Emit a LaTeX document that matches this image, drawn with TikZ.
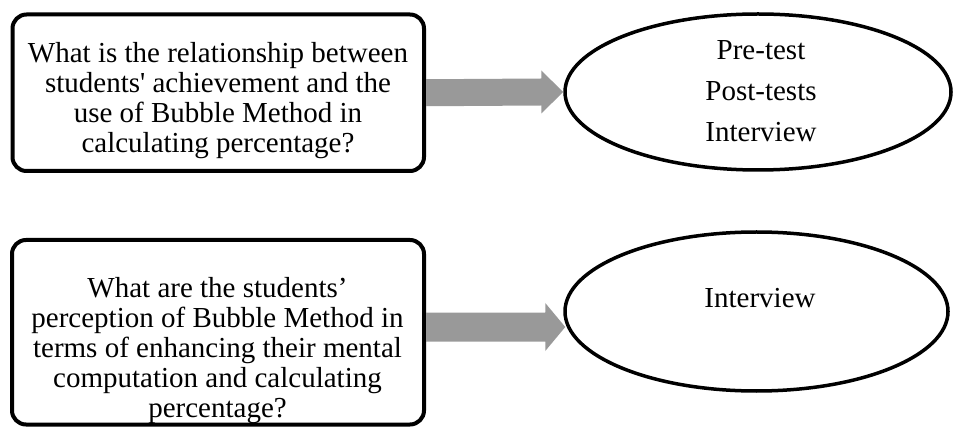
\documentclass[tikz,border=0pt]{standalone}
\usepackage{fontspec}
\setmainfont{Liberation Serif}
\usetikzlibrary{shapes.geometric,calc}
\definecolor{arrowgray}{HTML}{999999}
\begin{document}
\begin{tikzpicture}[x=1pt,y=-1pt,
  qbox/.style={draw, line width=4pt, rounded corners=14pt, fill=white, inner sep=0pt},
  qtext/.style={align=center, font=\fontsize{29}{30}\selectfont, inner sep=0pt},
  oval/.style={draw, ellipse, line width=3.5pt, inner sep=0pt},
  otext/.style={align=center, font=\fontsize{29}{41}\selectfont, inner sep=0pt},
  barrow/.style={fill=arrowgray}]
\useasboundingbox (0,0) rectangle (955,427);
% question boxes
\node[qbox, minimum width=411.5pt, minimum height=156.5pt] (q1) at (218.25,92.75) {};
\node[qtext] (q1t) at (218,101) {What is the relationship between\\students\textquotesingle{} achievement and the\\use of Bubble Method in\\calculating percentage?};
\node[qbox, minimum width=412pt, minimum height=184.5pt] (q2) at (218,332.25) {};
\node[qtext] (q2t) at (217.5,351) {What are the students’\\perception of Bubble Method in\\terms of enhancing their mental\\computation and calculating\\percentage?};
% answer ellipses
\node[oval, minimum width=386pt, minimum height=156pt] (e1) at (758,92) {};
\node[otext] (e1t) at (761,91) {Pre-test\\Post-tests\\Interview};
\node[oval, minimum width=383pt, minimum height=159pt] (e2) at (756.5,311.5) {};
\node[otext] (e2t) at (760,298) {Interview};
% block arrows
\fill[barrow] ($(q1.east)+(0,-13.5)$) -- ($(e1.west)+(-22,-13.5)$) -- ($(e1.west)+(-22,-21.5)$)
  -- (e1.west) -- ($(e1.west)+(-22,21.5)$) -- ($(e1.west)+(-22,13.5)$) -- ($(q1.east)+(0,13.5)$) -- cycle;
\coordinate (a2s) at ($(q2.east)+(0,-5)$);
\coordinate (a2t) at ($(e2.west)+(2,15.5)$);
\fill[barrow] ($(a2s)+(0,-14.5)$) -- ($(a2t)+(-20,-14.5)$) -- ($(a2t)+(-20,-24)$)
  -- (a2t) -- ($(a2t)+(-20,24)$) -- ($(a2t)+(-20,14.5)$) -- ($(a2s)+(0,14.5)$) -- cycle;
\end{tikzpicture}
\end{document}
